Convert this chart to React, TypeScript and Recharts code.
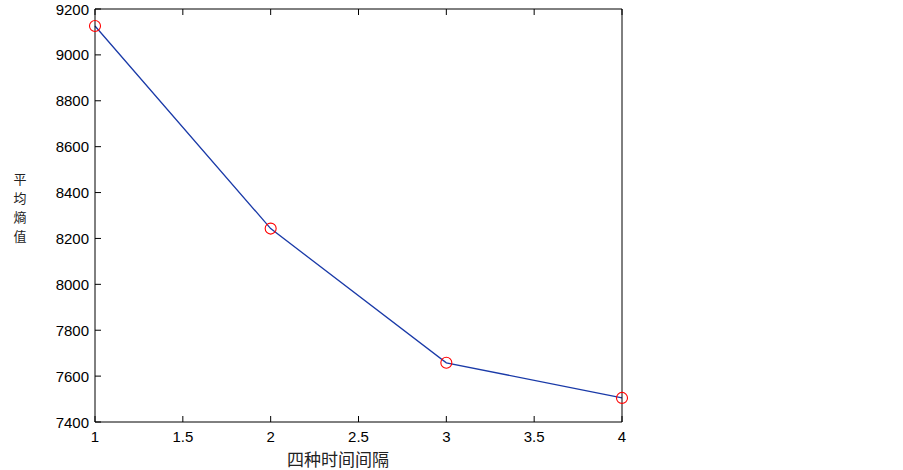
import * as React from "react";
import { LineChart, Line, XAxis, YAxis } from "recharts";

// mean entropy for the four time intervals
const intervals = [1, 2, 3, 4];
const entropy = [9126, 8243, 7658, 7505];
const xTicks = [1, 1.5, 2, 2.5, 3, 3.5, 4];
const yTicks = [7400, 7600, 7800, 8000, 8200, 8400, 8600, 8800, 9000, 9200];
const yLabelChars = ["平", "均", "熵", "值"];

const data = intervals.map((x, i) => ({ x, y: entropy[i] }));

const W = 903;
const H = 470;
const LEFT = 95;
const TOP = 9;
const RIGHT = 281;
const BOTTOM = 48;
const TICK = 6;
const FONT = "'Liberation Sans', Arial, sans-serif";
const CJK = "'Noto Sans CJK SC', sans-serif";

const BottomTick = (props: any) => {
  const { x, payload } = props;
  const base = H - BOTTOM;
  return (
    <g>
      <line x1={x} x2={x} y1={base} y2={base - TICK} stroke="#000" />
      <text x={x} y={base + 20} textAnchor="middle" fontSize={15} fontFamily={FONT} fill="#000">
        {payload.value}
      </text>
    </g>
  );
};

const LeftTick = (props: any) => {
  const { y, payload } = props;
  return (
    <g>
      <line x1={LEFT} x2={LEFT + TICK} y1={y} y2={y} stroke="#000" />
      <text x={LEFT - 6} y={y + 5.5} textAnchor="end" fontSize={15} fontFamily={FONT} fill="#000">
        {payload.value}
      </text>
    </g>
  );
};

const TopTick = (props: any) => {
  const { x } = props;
  return <line x1={x} x2={x} y1={TOP} y2={TOP + TICK} stroke="#000" />;
};

const RightTick = (props: any) => {
  const { y } = props;
  const edge = W - RIGHT;
  return <line x1={edge} x2={edge - TICK} y1={y} y2={y} stroke="#000" />;
};

const RedCircle = (props: any) => {
  const { cx, cy } = props;
  return <circle cx={cx} cy={cy} r={5.5} fill="none" stroke="#ff0000" strokeWidth={1.1} />;
};

export default function App() {
  return (
    <div style={{ position: "absolute", left: 0, top: 0, width: W, height: H, background: "#fff" }}>
      <LineChart
        width={W}
        height={H}
        data={data}
        margin={{ top: TOP - 1, right: RIGHT - 1, bottom: 0, left: 0 }}
      >
        <XAxis
          xAxisId="b"
          type="number"
          dataKey="x"
          domain={[1, 4]}
          ticks={xTicks}
          height={BOTTOM}
          tickSize={0}
          tickLine={false}
          tick={<BottomTick />}
          axisLine={{ stroke: "#000" }}
          interval={0}
        />
        <XAxis
          xAxisId="t"
          orientation="top"
          type="number"
          dataKey="x"
          domain={[1, 4]}
          ticks={xTicks}
          height={1}
          tickSize={0}
          tickMargin={0}
          tickLine={false}
          tick={<TopTick />}
          axisLine={{ stroke: "#000" }}
          interval={0}
        />
        <YAxis
          yAxisId="l"
          type="number"
          domain={[7400, 9200]}
          ticks={yTicks}
          width={LEFT}
          tickSize={0}
          tickLine={false}
          tick={<LeftTick />}
          axisLine={{ stroke: "#000" }}
          interval={0}
        />
        <YAxis
          yAxisId="r"
          orientation="right"
          type="number"
          domain={[7400, 9200]}
          ticks={yTicks}
          width={1}
          tickSize={0}
          tickMargin={0}
          tickLine={false}
          tick={<RightTick />}
          axisLine={{ stroke: "#000" }}
          interval={0}
        />
        <Line
          xAxisId="b"
          yAxisId="l"
          dataKey="y"
          type="linear"
          stroke="#1a3aa8"
          strokeWidth={1.3}
          dot={<RedCircle />}
          activeDot={false}
          isAnimationActive={false}
        />
      </LineChart>
      {yLabelChars.map((c, i) => (
        <div
          key={i}
          style={{
            position: "absolute",
            left: 11,
            top: 169 + i * 19,
            width: 18,
            height: 19,
            fontFamily: CJK,
            fontSize: 13,
            lineHeight: "19px",
            color: "#222",
            textAlign: "center",
          }}
        >
          {c}
        </div>
      ))}
      <div
        style={{
          position: "absolute",
          left: 287,
          top: 449,
          fontFamily: CJK,
          fontSize: 17,
          lineHeight: "20px",
          color: "#222",
          whiteSpace: "nowrap",
        }}
      >
        四种时间间隔
      </div>
    </div>
  );
}
